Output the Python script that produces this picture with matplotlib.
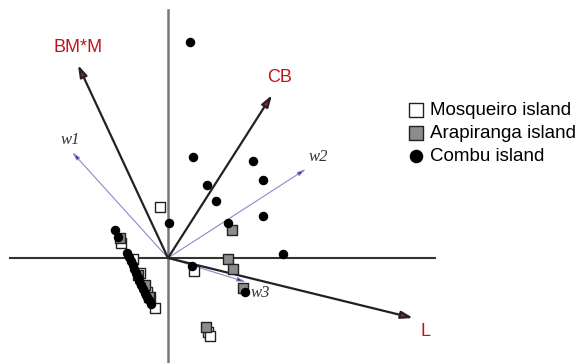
import numpy as np
import matplotlib.pyplot as plt

# biplot scores (origin at the crossing of the two axes)
combu_x = [22, 25, 85, 39, 95, 48, 95, 60, 1, 115, 24, 77,
           -53, -50, -41, -39, -37, -35, -34, -32, -30, -29, -27, -25, -23, -21, -19, -17]
combu_y = [216, 101, 97, 73, 78, 57, 42, 35, 35, 4, -8, -34,
           28, 21, 5, 1, -3, -7, -11, -15, -19, -23, -27, -31, -35, -39, -42, -46]

mosq_x = [-8, 26, -47, -35, -28, -21, -18, -13, 40, 42]
mosq_y = [51, -13, 15, -1, -15, -34, -39, -50, -74, -78]

arap_x = [64, 60, 65, 75, 38, -48, -30, -19, -23]
arap_y = [28, -1, -11, -30, -69, 20, -17, -39, -27]

# variable loadings (red-headed arrows)
var_names = ["BM*M", "CB", "L"]
var_x = [-90, 104, 245]
var_y = [193, 163, -60]

# weight vectors
w_names = ["w1", "w2", "w3"]
w_x = [-96, 138, 78]
w_y = [106, 89, -24]

fig = plt.figure(figsize=(5.77, 3.63), dpi=100)
ax = fig.add_axes([0, 0, 1, 1])
ax.set_xlim(-168, 409)
ax.set_ylim(-105, 258)
ax.axis("off")

# axes through the origin
ax.plot([0, 0], [248, -105], color="#777777", lw=1.8, zorder=1)
ax.plot([-158, 267], [0, 0], color="#333333", lw=1.5, zorder=1)

red = "#c0141c"
var_off = [(0, 17), (8, 18), (12, -14)]
for name, x, y, off in zip(var_names, var_x, var_y, var_off):
    ax.annotate("", xy=(x, y), xytext=(0, 0),
                arrowprops=dict(arrowstyle="-|>,head_length=0.7,head_width=0.22",
                                fc=red, ec="#222222", lw=1.6, shrinkA=0, shrinkB=0),
                zorder=3)
    ax.text(x + off[0], y + off[1], name, color=red, fontsize=13,
            family="Liberation Sans", ha="center", va="center")

w_off = [(-2, 12), (12, 12), (14, -11)]
for name, x, y, off in zip(w_names, w_x, w_y, w_off):
    ax.annotate("", xy=(x, y), xytext=(0, 0),
                arrowprops=dict(arrowstyle="-|>,head_length=0.5,head_width=0.12",
                                fc="#1a1a6e", ec="#8a8ac8", lw=0.8, shrinkA=0, shrinkB=0),
                zorder=2)
    ax.text(x + off[0], y + off[1], name, color="#333333", fontsize=12,
            family="Liberation Serif", style="italic", ha="center", va="center")

ax.scatter(mosq_x, mosq_y, marker="s", s=42, facecolor="white", edgecolor="#222222",
           lw=1.0, zorder=4, label="Mosqueiro island")
ax.scatter(arap_x, arap_y, marker="s", s=42, facecolor="#8c8c8c", edgecolor="#222222",
           lw=1.0, zorder=4, label="Arapiranga island")
ax.scatter(combu_x, combu_y, marker="o", s=34, facecolor="black", edgecolor="black",
           zorder=5, label="Combu island")

ax.legend(loc="upper left", bbox_to_anchor=(408 / 577, 1 - 102 / 363), frameon=False,
          borderpad=0, borderaxespad=0, handlelength=0.8, handletextpad=0.35,
          labelspacing=0.3, markerscale=1.5,
          prop={"family": "Liberation Sans", "size": 13.5})

fig.savefig("out.png", dpi=100)
